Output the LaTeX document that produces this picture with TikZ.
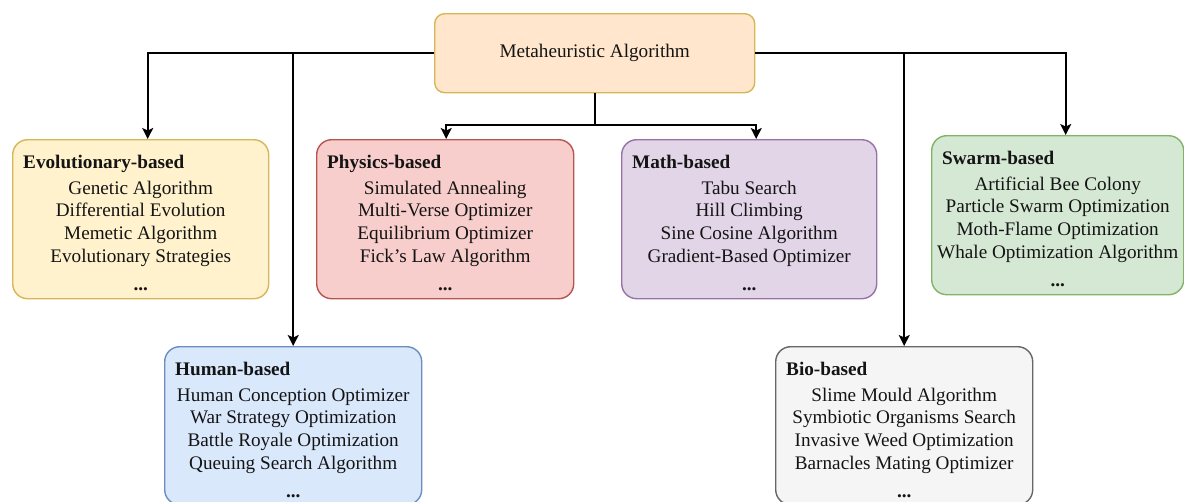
\documentclass[tikz,border=0pt]{standalone}
\usepackage{fontspec}
\setmainfont{Liberation Serif}
\usetikzlibrary{arrows.meta}

% box palettes (fill / border)
\definecolor{rootF}{HTML}{FFE6CC}
\definecolor{rootD}{HTML}{D6B656}
\definecolor{evoF}{HTML}{FFF2CC}
\definecolor{evoD}{HTML}{D6B656}
\definecolor{phyF}{HTML}{F8CECC}
\definecolor{phyD}{HTML}{B85450}
\definecolor{matF}{HTML}{E1D5E7}
\definecolor{matD}{HTML}{9673A6}
\definecolor{swaF}{HTML}{D5E8D4}
\definecolor{swaD}{HTML}{82B366}
\definecolor{humF}{HTML}{DAE8FC}
\definecolor{humD}{HTML}{6C8EBF}
\definecolor{bioF}{HTML}{F5F5F5}
\definecolor{bioD}{HTML}{666666}

\tikzset{
  txt/.style={font=\fontsize{19.2}{23}\selectfont, inner sep=0pt, text=black!92},
  catbox/.style={draw, rounded corners=15pt, line width=1.4pt, inner sep=0pt, anchor=north west},
  cattitle/.style={txt, font=\fontsize{19.2}{23}\selectfont\bfseries, anchor=base west},
  catitem/.style={txt, anchor=base},
  conn/.style={line width=1.9pt, -{Stealth[length=11pt,width=11pt,inset=2.5pt]}},
  link/.style={line width=1.9pt},
}

% name, left, top, width, height, palette, title, items
\newcommand\algcat[8]{%
  \node[catbox, fill=#6F, draw=#6D, minimum width=#4pt, minimum height=#5pt] (#1) at (#2,#3) {};
  \node[cattitle] (#1-t) at ([xshift=11pt,yshift=-29pt]#1.north west) {#7};
  \foreach \it [count=\k] in {#8} {
    \node[catitem] (#1-\k) at ([yshift={-55pt-22.7pt*(\k-1)}]#1.north) {\it};
  }
  \node[catitem, font=\fontsize{19.2}{23}\selectfont\bfseries] (#1-more) at ([yshift=-151pt]#1.north) {...};
}

\begin{document}
\begin{tikzpicture}[x=1pt,y=-1pt]
\useasboundingbox (0,0) rectangle (1184,501);
\clip (0,0) rectangle (1184,501);

% root
\node[draw=rootD, fill=rootF, rounded corners=10pt, line width=1.4pt,
      minimum width=320pt, minimum height=79pt, anchor=north west, txt] (root) at (434,13) {Metaheuristic Algorithm};

% categories
\algcat{evo}{12}{139}{256}{159}{evo}{Evolutionary-based}
  {Genetic Algorithm, Differential Evolution, Memetic Algorithm, Evolutionary Strategies}
\algcat{phy}{316}{139}{257}{159}{phy}{Physics-based}
  {Simulated Annealing, Multi-Verse Optimizer, Equilibrium Optimizer, Fick’s Law Algorithm}
\algcat{mat}{621}{139}{255}{159}{mat}{Math-based}
  {Tabu Search, Hill Climbing, Sine Cosine Algorithm, Gradient-Based Optimizer}
\algcat{swa}{931}{135}{252}{159}{swa}{Swarm-based}
  {Artificial Bee Colony, Particle Swarm Optimization, Moth-Flame Optimization, Whale Optimization Algorithm}
\algcat{hum}{164}{346}{257}{158}{hum}{Human-based}
  {Human Conception Optimizer, War Strategy Optimization, Battle Royale Optimization, Queuing Search Algorithm}
\algcat{bio}{775}{346}{257}{158}{bio}{Bio-based}
  {Slime Mould Algorithm, Symbiotic Organisms Search, Invasive Weed Optimization, Barnacles Mating Optimizer}

% connectors
\coordinate (split) at ([yshift=-32pt]root.south);
\draw[conn] (root.west) -| ([xshift=7pt]evo.north);
\draw[conn] (root.west -| hum.north) -- (hum.north);
\draw[conn] (root.east) -| ([xshift=8pt]swa.north);
\draw[conn] (root.east -| bio.north) -- (bio.north);
\draw[link] (root.south) -- (split);
\draw[conn] (split) -| ([xshift=1pt]phy.north);
\draw[conn] (split) -| ([xshift=7pt]mat.north);
\end{tikzpicture}
\end{document}
